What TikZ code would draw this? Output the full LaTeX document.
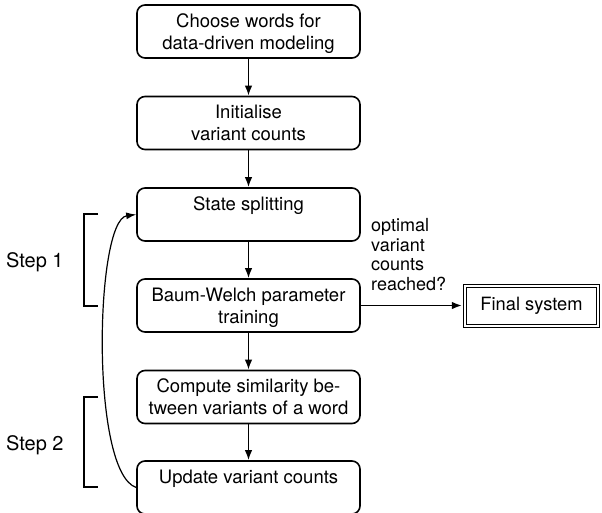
\documentclass[tikz,border=0pt]{standalone}
\usepackage{fontspec}
\setmainfont{TeX Gyre Heros}
\usetikzlibrary{arrows.meta}
\newcommand{\boxtxt}[1]{\parbox[c][53pt][t]{214pt}{\vspace*{7pt}\centering\strut #1\par}}
\tikzset{
  stepbox/.style={draw, line width=1.6pt, rounded corners=8pt, inner sep=0pt,
    minimum width=223pt, font=\fontsize{18.5}{22}\selectfont},
  flow/.style={line width=1.5pt, -{Latex[length=10pt,width=7.5pt]}},
  loopline/.style={line width=1.2pt, -{Latex[length=10pt,width=7pt]}},
  brack/.style={line width=1.5pt},
  lab/.style={inner sep=0pt, font=\fontsize{18}{19.5}\selectfont},
  finalbox/.style={draw, line width=1.4pt, double, double distance=2pt,
    minimum width=133pt, minimum height=40pt, inner sep=0pt,
    font=\fontsize{18.3}{22}\selectfont}
}
\begin{document}
\begin{tikzpicture}[x=1pt,y=-1pt]
\useasboundingbox (0,0) rectangle (602,513);
\node[stepbox] (b1) at (248.5,31.5) {\boxtxt{Choose words for\\data-driven modeling}};
\node[stepbox] (b2) at (248.5,123) {\boxtxt{Initialise\\variant counts}};
\node[stepbox] (b3) at (248.5,214.5) {\boxtxt{State splitting}};
\node[stepbox] (b4) at (248.5,305.5) {\boxtxt{Baum-Welch parameter\\training}};
\node[stepbox] (b5) at (248.5,397) {\boxtxt{Compute similarity be-\\tween variants of a word}};
\node[stepbox] (b6) at (248.5,487.5) {\boxtxt{Update variant counts}};
\node[finalbox] (fin) at (531.5,306) {Final system};
\node[lab, anchor=north west, align=left] (q) at (371,218.5) {optimal\\variant\\counts\\reached?};
\node[lab, anchor=base west, font=\fontsize{20}{24}\selectfont] (s1) at (6,267) {Step 1};
\node[lab, anchor=base west, font=\fontsize{20}{24}\selectfont] (s2) at (6,450) {Step 2};
\draw[flow] (b1) -- (b2);
\draw[flow] (b2) -- (b3);
\draw[flow] (b3) -- (b4);
\draw[flow] (b4) -- (b5);
\draw[flow] (b5) -- (b6);
\draw[flow, shorten >=2.4pt] (b4.east) -- (b4.east -| fin.west);
\draw[loopline] (b6.west) .. controls (90,472) and (95,220) .. (b3.west);
\draw[brack] (98,214) -- (84,214) -- (84,306) -- (98,306);
\draw[brack] (98,397) -- (84,397) -- (84,487) -- (98,487);
\end{tikzpicture}
\end{document}
